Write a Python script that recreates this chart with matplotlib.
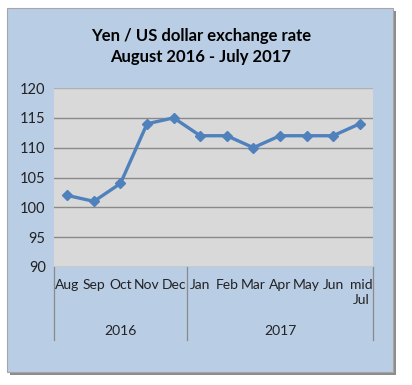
import matplotlib
matplotlib.use('Agg')
import matplotlib.pyplot as plt
from matplotlib.patches import Rectangle
import matplotlib.transforms as mtransforms

months = ["Aug", "Sep", "Oct", "Nov", "Dec", "Jan", "Feb", "Mar", "Apr", "May", "Jun", "mid\nJul"]
rates = [102, 101, 104, 114, 115, 112, 112, 110, 112, 112, 112, 114]
years = ["2016", "2017"]
year_counts = [5, 7]
yticks = [90, 95, 100, 105, 110, 115, 120]

W, H = 412, 385
fig = plt.figure(figsize=(W / 100, H / 100), dpi=100)
fig.patch.set_facecolor("white")

def fx(px):
    return px / W

def fy(py):
    return 1 - py / H

# shadow + outer panel
fig.patches.append(Rectangle((fx(10), fy(375)), fx(386), (375 - 11) / H,
                             transform=fig.transFigure, facecolor="#8c8c8c",
                             edgecolor="none", zorder=-2))
fig.patches.append(Rectangle((fx(7), fy(372)), fx(386), (372 - 8) / H,
                             transform=fig.transFigure, facecolor="#b9cde5",
                             edgecolor="#a6a6a6", linewidth=0.8, zorder=-1))

font = "Lato"
fig.text(fx(201), fy(36), "Yen / US dollar exchange rate", ha="center", va="center",
         fontsize=12, fontweight="bold", family=font)
fig.text(fx(201), fy(57), "August 2016 - July 2017", ha="center", va="center",
         fontsize=12, fontweight="bold", family=font)

ax = fig.add_axes([fx(54), fy(267), fx(373 - 54), (267 - 88) / H])
ax.set_facecolor("#d9d9d9")
x = list(range(len(months)))
ax.plot(x, rates, color="#4f81bd", linewidth=2.4, marker="D", markersize=5.5,
        zorder=3)
ax.set_xlim(-0.5, len(months) - 0.5)
ax.set_ylim(90, 120)
ax.set_yticks(yticks)
ax.set_yticklabels([str(v) for v in yticks], family=font, fontsize=10.5, color="#222222")
ax.tick_params(axis="y", length=0, pad=6)
ax.set_xticks([])
for v in yticks:
    ax.axhline(v, color="#8a8a8a" if v < 120 else "#b0b0b0", linewidth=1.0, zorder=1)
for s in ax.spines.values():
    s.set_visible(False)

trans = mtransforms.blended_transform_factory(ax.transData, ax.transAxes)
ax_h = 267 - 88
for i, m in enumerate(months):
    ax.text(i + (0.05 if "\n" in m else 0), -(12 / ax_h), m, transform=trans,
            ha="center", va="top", fontsize=10, family=font, color="#222222",
            linespacing=1.25, clip_on=False)

# year group separators and labels
bounds = [-0.5]
for n in year_counts:
    bounds.append(bounds[-1] + n)
for b in bounds:
    ax.plot([b, b], [0, -(73 / ax_h)], transform=trans, color="#8a8a8a",
            linewidth=0.9, clip_on=False)
for j, yr in enumerate(years):
    ax.text((bounds[j] + bounds[j + 1]) / 2, -(64 / ax_h), yr, transform=trans,
            ha="center", va="center", fontsize=10, family=font, color="#222222",
            clip_on=False)

fig.savefig("out.png", dpi=100)
